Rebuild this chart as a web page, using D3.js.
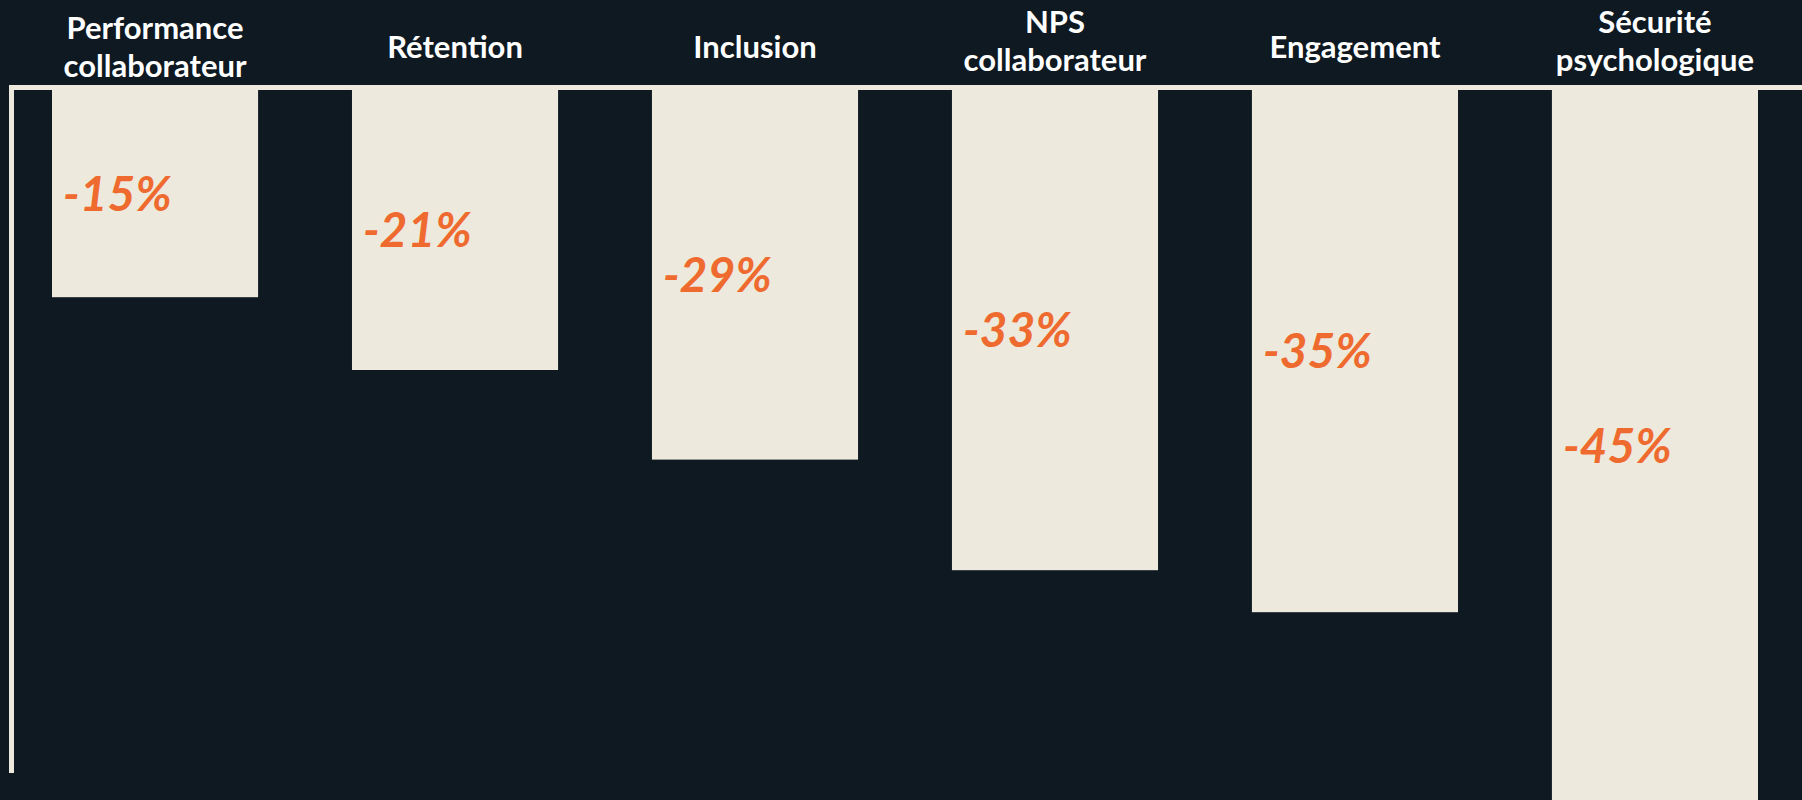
<!DOCTYPE html>
<html>
<head>
<meta charset="utf-8">
<script src="https://cdn.jsdelivr.net/npm/d3@7"></script>
<style>
  body { margin: 0; background: #0e1922; overflow: hidden; }
</style>
</head>
<body>
<div id="chart"></div>
<script>
// categories (a space splits the label onto two lines)
var categories = ["Performance collaborateur", "Rétention", "Inclusion",
                  "NPS collaborateur", "Engagement", "Sécurité psychologique"];
// the percentages printed on the bars
var shownValues = [-15, -21, -29, -33, -35, -45];
// bar lengths as they are drawn in the picture (not proportional to the labels)
var barValues = [-14.8, -20, -26.4, -34.3, -37.3, -50.8];

var width = 1802,
    height = 800,
    margin = {top: 90, left: 52};

var cream = "#ede9dc",
    orange = "#ef6a2e";

// small vertical nudge of some two-line headers, as in the original
var headerShift = [0, 0, 0, -6, 0, -6];

var svg = d3.select("#chart").append("svg")
    .attr("width", width)
    .attr("height", height)
    .style("display", "block");

svg.append("rect")
    .attr("width", width)
    .attr("height", height)
    .attr("fill", "#0e1922");

var x = d3.scaleBand()
    .domain(categories)
    .range([margin.left, margin.left + 1706])
    .paddingInner(0.313)
    .paddingOuter(0);

var y = d3.scaleLinear()
    .domain([0, -50])
    .range([0, 700]);

var data = categories.map(function(c, i) {
  return {cat: c, shown: shownValues[i], bar: barValues[i], shift: headerShift[i]};
});

var plot = svg.append("g")
    .attr("transform", "translate(0," + margin.top + ")");

// bars hang down from the top line
plot.selectAll(".bar")
    .data(data)
  .enter().append("rect")
    .attr("class", "bar")
    .attr("x", function(d) { return x(d.cat); })
    .attr("y", y(0))
    .attr("width", x.bandwidth())
    .attr("height", function(d) { return y(d.bar) - y(0); })
    .attr("fill", cream);

// value labels, in the vertical middle of each bar
plot.selectAll(".value")
    .data(data)
  .enter().append("text")
    .attr("class", "value")
    .attr("x", function(d) { return x(d.cat) + 11; })
    .attr("y", function(d) { return (y(0) + y(d.bar)) / 2; })
    .attr("dy", "0.36em")
    .attr("fill", orange)
    .style("font-family", "Lato, 'Open Sans', sans-serif")
    .style("font-weight", "bold")
    .style("font-style", "italic")
    .style("font-size", "48px")
    .text(function(d) { return d.shown + "%"; });

// frame: left line and top line
svg.append("path")
    .attr("d", "M11.5,773V87.5H" + width)
    .attr("fill", "none")
    .attr("stroke", cream)
    .attr("stroke-width", 5);

// category labels above the top line
var cat = svg.selectAll(".cat")
    .data(data)
  .enter().append("text")
    .attr("class", "cat")
    .attr("text-anchor", "middle")
    .attr("fill", "#ffffff")
    .style("font-family", "Lato, 'Open Sans', sans-serif")
    .style("font-weight", "bold")
    .style("font-size", "31px");

cat.each(function(d) {
  var lines = d.cat.split(" ");
  var t = d3.select(this);
  var cx = x(d.cat) + x.bandwidth() / 2;
  var y0 = (lines.length > 1 ? 39 : 58) + d.shift;
  lines.forEach(function(l, i) {
    t.append("tspan")
        .attr("x", cx)
        .attr("y", y0 + i * 38)
        .text(l);
  });
});
</script>
</body>
</html>
